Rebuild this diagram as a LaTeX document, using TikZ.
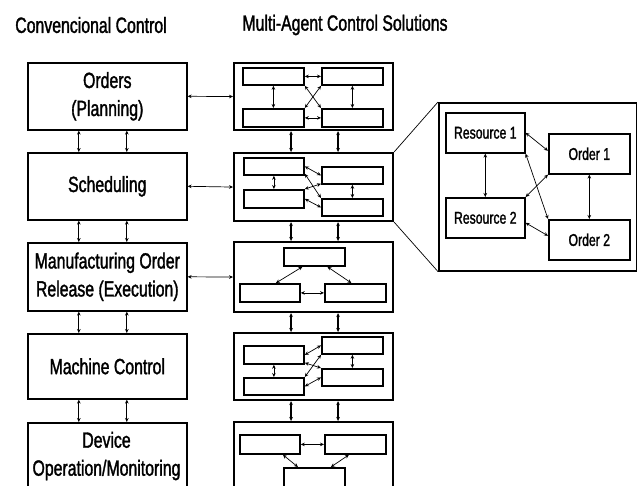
\documentclass[tikz,border=0pt]{standalone}
\usepackage{fontspec}
\setmainfont{Liberation Sans}[FakeStretch=0.72, FakeBold=1.5]
\usetikzlibrary{arrows.meta}

% box from its top-left to its bottom-right corner (picture units, y downwards)
\newcommand\bx[7]{%
  \node[#1, anchor=north west, minimum width={#5-#3}, minimum height={#6-#4}] (#2) at (#3,#4) {#7};}

\tikzset{
  tip/.tip={Stealth[length=4pt,width=3.6pt]},
  lbox/.style={draw, line width=1.6pt, inner sep=0pt, align=center,
               font=\fontsize{22}{28}\selectfont},
  mbox/.style={draw, line width=2.1pt, inner sep=0pt},
  ibox/.style={draw, line width=1.8pt, inner sep=0pt},
  dbox/.style={draw, line width=1.6pt, inner sep=0pt,
               font=\fontsize{17}{20}\selectfont},
  title/.style={font=\fontsize{22}{26}\selectfont},
  link/.style={tip-tip, line width=0.7pt},
  bus/.style={tip-tip, line width=1.3pt},
  zoomline/.style={line width=0.7pt},
}

\begin{document}
\begin{tikzpicture}[x=1pt, y=-1pt]
\useasboundingbox (0,0) rectangle (637,486);
\clip (0,0) rectangle (637,486);

% headings
\node[title] (h1) at (91,25) {Convencional Control};
\node[title] (h2) at (345,25) {Multi-Agent Control Solutions};

% conventional hierarchy
\bx{lbox}{L1}{27}{62}{186}{129}{Orders\\(Planning)}
\bx{lbox}{L2}{27}{152}{186}{219}{Scheduling}
\bx{lbox}{L3}{27}{242}{186}{310}{Manufacturing Order\\Release (Execution)}
\bx{lbox}{L4}{27}{333}{186}{398}{Machine Control}
\node[lbox, anchor=north west, minimum width=159, minimum height=80] (L5) at (27,422) {};
\node[font=\fontsize{22}{28}\selectfont, align=center] (L5t) at (106.5,456) {Device\\Operation/Monitoring};

% multi-agent counterparts
\bx{mbox}{M1}{233}{62}{392}{129}{}
\bx{mbox}{M2}{233}{152}{392}{220}{}
\bx{mbox}{M3}{233}{241}{392}{311}{}
\bx{mbox}{M4}{233}{332}{392}{399}{}
\bx{mbox}{M5}{233}{421}{392}{502}{}

% links between the levels
\foreach \a/\b in {L1/L2, L2/L3, L3/L4, L4/L5} {
  \draw[link] ([xshift=-28.5pt]\a.south) -- ([xshift=-28.5pt]\b.north);
  \draw[link] ([xshift=19.5pt]\a.south) -- ([xshift=19.5pt]\b.north);
}
\foreach \a/\b in {M1/M2, M2/M3, M3/M4, M4/M5} {
  \draw[bus] ([xshift=-22.5pt]\a.south) -- ([xshift=-22.5pt]\b.north);
  \draw[bus] ([xshift=24.5pt]\a.south) -- ([xshift=24.5pt]\b.north);
}
\foreach \i in {1,2,3}
  \draw[link] (L\i.east) -- (M\i.west);

% planning agents
\bx{ibox}{a1}{242}{67}{303}{84}{}
\bx{ibox}{b1}{321}{67}{382}{84}{}
\bx{ibox}{c1}{242}{108}{303}{126}{}
\bx{ibox}{d1}{321}{108}{382}{126}{}
\draw[link] (a1.east) -- (b1.west);
\draw[link] (c1.east) -- (d1.west);
\draw[link] (a1.south) -- (c1.north);
\draw[link] (b1.south) -- (d1.north);
\draw[link] (a1.south east) -- (d1.north west);
\draw[link] (c1.north east) -- (b1.south west);

% scheduling agents
\bx{ibox}{a2}{243}{157}{303}{174}{}
\bx{ibox}{c2}{243}{189}{303}{207}{}
\bx{ibox}{b2}{321}{166}{382}{183}{}
\bx{ibox}{d2}{321}{198}{382}{215}{}
\draw[link] (a2.south) -- (c2.north);
\draw[link] (b2.south) -- (d2.north);
\draw[link] (a2.east) -- (b2.west);
\draw[link] ([yshift=2pt]a2.south east) -- (d2.north west);
\draw[link] (c2.north east) -- ([yshift=1pt]b2.south west);
\draw[link] (c2.east) -- (d2.west);

% execution agents
\bx{ibox}{t3}{283}{247}{344}{265}{}
\bx{ibox}{l3}{239}{283}{299}{301}{}
\bx{ibox}{r3}{324}{283}{385}{301}{}
\draw[link] (l3.east) -- (r3.west);
\draw[link] ([xshift=-12pt]t3.south) -- ([xshift=6pt]l3.north);
\draw[link] ([xshift=13pt]t3.south) -- ([xshift=-4pt]r3.north);

% machine control agents
\bx{ibox}{a4}{243}{345}{303}{363}{}
\bx{ibox}{c4}{243}{377}{303}{394}{}
\bx{ibox}{b4}{321}{336}{382}{353}{}
\bx{ibox}{d4}{321}{368}{382}{385}{}
\draw[link] (a4.south) -- (c4.north);
\draw[link] (b4.south) -- (d4.north);
\draw[link] (a4.east) -- (b4.west);
\draw[link] ([yshift=2pt]a4.south east) -- (d4.north west);
\draw[link] (c4.north east) -- (b4.south west);
\draw[link] (c4.east) -- (d4.west);

% device agents
\bx{ibox}{l5}{239}{434}{299}{453}{}
\bx{ibox}{r5}{324}{434}{385}{453}{}
\bx{ibox}{b5}{283}{467}{344}{492}{}
\draw[link] (l5.east) -- (r5.west);
\draw[link] ([xshift=13pt]l5.south) -- ([xshift=-16.5pt]b5.north);
\draw[link] ([xshift=-6.5pt]r5.south) -- ([xshift=16.5pt]b5.north);

% enlarged view of the scheduling agents
\bx{dbox}{D}{438}{102}{636}{270}{}
\bx{dbox}{R1}{445}{112}{524}{152}{Resource 1}
\bx{dbox}{R2}{445}{197}{524}{237}{Resource 2}
\bx{dbox}{O1}{548}{133}{629}{173}{Order 1}
\bx{dbox}{O2}{548}{219}{629}{259}{Order 2}
\draw[link] (R1.south) -- (R2.north);
\draw[link] (O1.south) -- (O2.north);
\draw[link] (R1.east) -- ([yshift=3pt]O1.west);
\draw[link] (R1.south east) -- (O2.north west);
\draw[link] (O1.south west) -- (R2.north east);
\draw[link] ([yshift=-5pt]R2.east) -- ([yshift=4pt]O2.west);
\draw[zoomline] (M2.north east) -- (D.north west);
\draw[zoomline] (M2.south east) -- (D.south west);
\end{tikzpicture}
\end{document}
